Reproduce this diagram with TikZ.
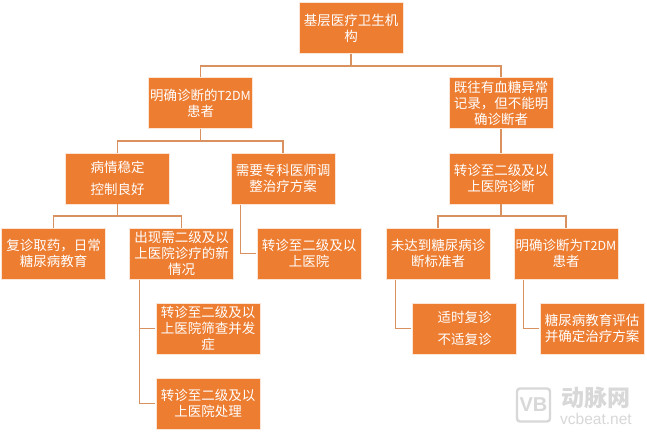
\documentclass[tikz,border=0pt]{standalone}
\usepackage{fontspec}
\setmainfont{Noto Sans CJK SC}[Scale=1]
\newfontfamily\latinwm{Liberation Sans}
\usetikzlibrary{calc}
\definecolor{boxfill}{HTML}{ED7D31}
\definecolor{boxedge}{HTML}{FBE5D6}
\definecolor{linkc}{HTML}{D9925F}
\definecolor{wm}{HTML}{D8D8D8}
\newcommand{\tdm}{{\fontsize{12.5pt}{16pt}\selectfont T2DM}}
\tikzset{
  box/.style={draw=boxedge,fill=boxfill,line width=0.8pt,minimum width=104pt,minimum height=51pt,inner sep=0pt,
    text=white,align=center,font=\fontsize{13.5pt}{16pt}\selectfont},
  wide/.style={font=\fontsize{13.5pt}{22pt}\selectfont},
  link/.style={draw=linkc,line width=1.1pt},
}
\begin{document}
\begin{tikzpicture}[x=1pt,y=-1pt]
\useasboundingbox (0,0) rectangle (647,433);
\fill[white] (0,0) rectangle (647,433);
% boxes
\node[box] (root) at (351,28) {基层医疗卫生机\\构};
\node[box] (known) at (200.5,103) {明确诊断的\tdm\\患者};
\node[box] (hist) at (501,103) {既往有血糖异常\\记录，但不能明\\确诊断者};
\node[box,wide] (stable) at (117.5,178.5) {病情稳定\\控制良好};
\node[box] (spec) at (283,178.5) {需要专科医师调\\整治疗方案};
\node[box] (refer) at (501,178.5) {转诊至二级及以\\上医院诊断};
\node[box] (revisit) at (53.5,253.5) {复诊取药，日常\\糖尿病教育};
\node[box] (newcase) at (181.5,253.5) {出现需二级及以\\上医院诊疗的新\\情况};
\node[box] (toupper) at (309,253.5) {转诊至二级及以\\上医院};
\node[box] (notmet) at (438,253.5) {未达到糖尿病诊\\断标准者};
\node[box] (confirm) at (566,253.5) {明确诊断为\tdm\\患者};
\node[box] (screen) at (208,328.5) {转诊至二级及以\\上医院筛查并发\\症};
\node[box] (treat) at (208,403.5) {转诊至二级及以\\上医院处理};
\node[box,wide] (timely) at (464.5,328.5) {适时复诊\\不适复诊};
\node[box] (educ) at (592,328.5) {糖尿病教育评估\\并确定治疗方案};
% bus levels
\coordinate (bus1) at (0,66);
\coordinate (bus2) at (0,141);
\coordinate (bus3) at (0,216);
% tree connectors
\draw[link] (root.south) -- (root.south |- bus1);
\draw[link] (known.north) |- (hist.north |- bus1) -- (hist.north);
\draw[link] (known.south) -- (known.south |- bus2);
\draw[link] (stable.north) |- (spec.north |- bus2) -- (spec.north);
\draw[link] (hist.south) -- (refer.north);
\draw[link] (stable.south) -- (stable.south |- bus3);
\draw[link] (revisit.north) |- (newcase.north |- bus3) -- (newcase.north);
\draw[link] (refer.south) -- (refer.south |- bus3);
\draw[link] (notmet.north) |- (confirm.north |- bus3) -- (confirm.north);
% side connectors
\draw[link] ($(spec.south west)+(10,1)$) |- ($(toupper.west)+(-1,0)$);
\draw[link] ($(newcase.south west)+(10,1)$) |- ($(screen.west)+(-1,0)$);
\draw[link] ($(newcase.south west)+(10,1)$) |- ($(treat.west)+(-1,0)$);
\draw[link] ($(notmet.south west)+(10,1)$) |- ($(timely.west)+(-1,0)$);
\draw[link] ($(confirm.south west)+(10,1)$) |- ($(educ.west)+(-1,0)$);
% watermark
\draw[wm,line width=2.4pt,rounded corners=3pt] (517,388.5) rectangle (550,421.5);
\node[wm,font=\latinwm\bfseries\fontsize{20pt}{20pt}\selectfont,inner sep=0pt] (wmlogo) at (533.5,405) {VB};
\node[wm,font=\bfseries\fontsize{23pt}{23pt}\selectfont,inner sep=0pt] (wmname) at (596,398) {动脉网};
\node[wm,font=\latinwm\fontsize{15.5pt}{16pt}\selectfont,inner sep=0pt] (wmurl) at (596,419) {vcbeat.net};
\end{tikzpicture}
\end{document}
